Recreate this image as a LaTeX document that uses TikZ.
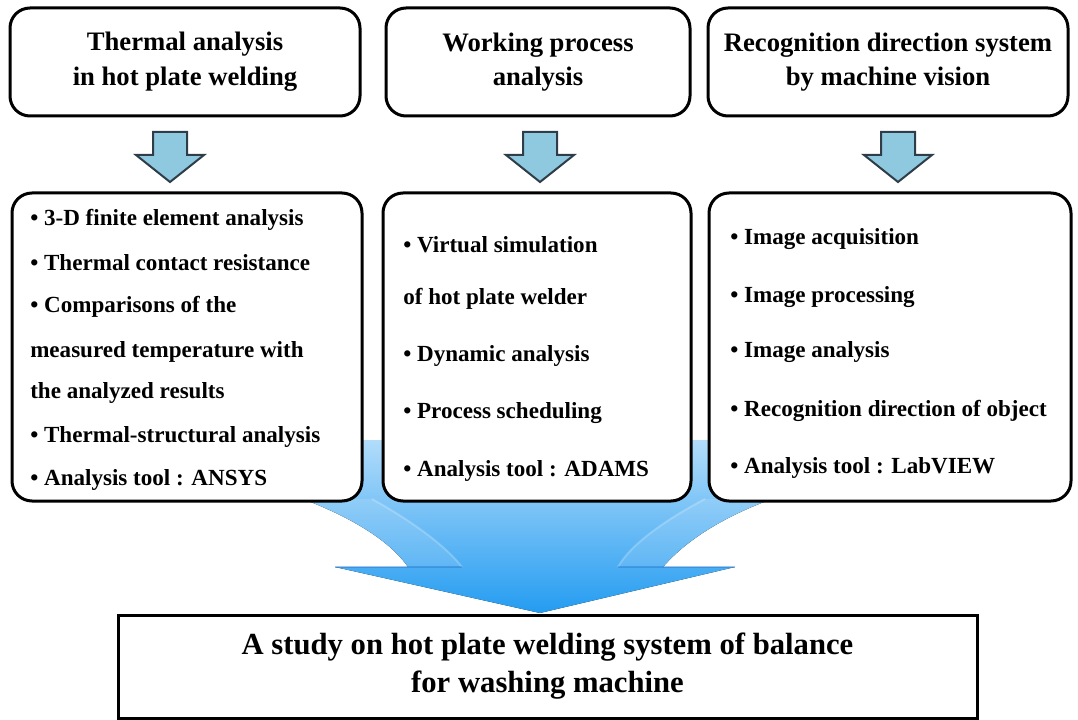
\documentclass[tikz,border=0pt]{standalone}
\usepackage{fontspec}
\setmainfont{Liberation Serif}
\usetikzlibrary{calc}
\definecolor{fTop}{RGB}{178,220,250}
\definecolor{fMid}{RGB}{104,184,246}
\definecolor{fBot}{RGB}{36,156,241}
\definecolor{fDark}{RGB}{30,110,200}
\definecolor{arrFill}{RGB}{143,201,223}
\definecolor{arrLine}{RGB}{46,61,72}
\begin{document}
\begin{tikzpicture}[x=0.75pt,y=-0.75pt,
  rbox/.style={draw=black, line width=2.25pt, rounded corners=15pt, fill=white, inner sep=0pt},
  sbox/.style={draw=black, line width=2.25pt, fill=white, inner sep=0pt},
  titletext/.style={font=\bfseries\fontsize{20}{26}\selectfont, align=center},
  bigtext/.style={font=\bfseries\fontsize{23}{28.5}\selectfont, align=center},
  item/.style={font=\bfseries\fontsize{17.3}{20}\selectfont, anchor=base west, inner sep=0pt},
  blockarrow/.pic={
    \filldraw[fill=arrFill, draw=arrLine, line width=1.5pt, line join=miter]
      (-17,0) -- (17,0) -- (17,23) -- (34,23) -- (0,50) -- (-34,23) -- (-17,23) -- cycle;
  }]
\useasboundingbox (0,0) rectangle (1078,720);

% big merging arrow (behind the boxes)
\fill[top color=fTop, middle color=fMid, bottom color=fBot]
  (292,440) -- (303,499) .. controls (345,515) and (388,538) .. (408,567)
  -- (335,567) -- (540,613) -- (735,567) -- (663,567)
  .. controls (688,538) and (728,515) .. (772,499) -- (782,440) -- cycle;
\fill[white, opacity=0.12]
  (303,499) .. controls (345,515) and (388,538) .. (408,567) -- (462,567)
  .. controls (445,545) and (410,520) .. (372,499) -- cycle;
\fill[white, opacity=0.12]
  (772,499) .. controls (728,515) and (688,538) .. (663,567) -- (618,567)
  .. controls (630,545) and (665,520) .. (705,499) -- cycle;
\draw[white, opacity=0.22, line width=1.5pt] (372,499) .. controls (410,520) and (445,545) .. (462,567);
\draw[white, opacity=0.22, line width=1.5pt] (705,499) .. controls (665,520) and (630,545) .. (618,567);
\draw[fDark, opacity=0.4, line width=1pt] (335,567) -- (462,567);
\draw[fDark, opacity=0.4, line width=1pt] (618,567) -- (735,567);

% top boxes
\node[rbox, titletext, minimum width=262.5pt, minimum height=81pt] (t1) at (185,62)
  {Thermal analysis\\in hot plate welding};
\node[rbox, titletext, minimum width=228pt, minimum height=81pt] (t2) at (538,62)
  {Working process\\analysis};
\node[rbox, titletext, minimum width=270pt, minimum height=81pt] (t3) at (888,62)
  {Recognition direction system\\by machine vision};

% small block arrows
\pic at (170,132) {blockarrow};
\pic at (540,132) {blockarrow};
\pic at (898,132) {blockarrow};

% middle boxes
\node[rbox, minimum width=262.5pt, minimum height=231pt] (m1) at (187,347) {};
\node[rbox, minimum width=231pt, minimum height=231pt] (m2) at (537,347) {};
\node[rbox, minimum width=271.5pt, minimum height=231pt] (m3) at (890,347) {};

% items box 1
\node[item] (a1) at (30,226) {• 3-D finite element analysis};
\node[item] (a2) at (30,271) {• Thermal contact resistance};
\node[item] (a3) at (30,313) {• Comparisons of the};
\node[item] (a4) at (30,357) {measured temperature with};
\node[item] (a5) at (30,398) {the analyzed results};
\node[item] (a6) at (30,442) {• Thermal-structural analysis};
\node[item] (a7) at (30,485) {• Analysis tool : ANSYS};

% items box 2
\node[item] (b1) at (403,253) {• Virtual simulation};
\node[item] (b2) at (403,305) {of hot plate welder};
\node[item] (b3) at (403,361) {• Dynamic analysis};
\node[item] (b4) at (403,418) {• Process scheduling};
\node[item] (b5) at (403,476) {• Analysis tool : ADAMS};

% items box 3
\node[item] (c1) at (730,245) {• Image acquisition};
\node[item] (c2) at (730,302) {• Image processing};
\node[item] (c3) at (730,358) {• Image analysis};
\node[item] (c4) at (730,416) {• Recognition direction of object};
\node[item] (c5) at (730,473) {• Analysis tool : LabVIEW};

% bottom box
\node[sbox, bigtext, minimum width=644.25pt, minimum height=77.25pt] (bot) at (547.5,666.5)
  {A study on hot plate welding system of balance\\for washing machine};
\end{tikzpicture}
\end{document}
